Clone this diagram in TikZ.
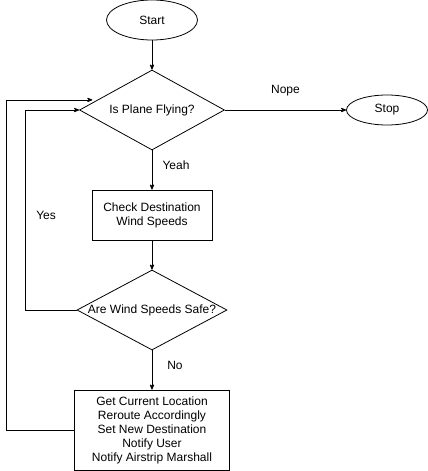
\documentclass[tikz,border=0pt]{standalone}
\usepackage{fontspec}
\setmainfont{Liberation Sans}
\usetikzlibrary{shapes.geometric,calc,arrows,positioning}

\begin{document}
\begin{tikzpicture}[x=1pt,y=-1pt,>=stealth',node distance=90pt,on grid,
  every node/.style={font=\fontsize{12}{14}\selectfont},
  terminal/.style={draw,ellipse,inner sep=0pt,line width=0.8pt},
  decision/.style={draw,diamond,inner sep=0pt,aspect=1.9,minimum height=80pt,line width=0.8pt},
  process/.style={draw,rectangle,align=center,inner sep=0pt,line width=0.8pt}]
  \useasboundingbox (0,0) rectangle (428,471);
  \node[terminal,minimum width=91pt,minimum height=40pt] (start) at (152,20) {Start};
  \node[decision,minimum width=145pt] (fly)     [below=90pt of start] {Is Plane Flying?};
  \node[terminal,minimum width=81pt,minimum height=30pt] (stop) [right=235pt of fly] {Stop};
  \node[process,minimum width=120pt,minimum height=50pt] (check) [below=105pt of fly] {Check Destination\\Wind Speeds};
  \node[decision,minimum width=150pt] (safe)    [below=95pt of check] {Are Wind Speeds Safe?};
  \node[process,minimum width=155pt,minimum height=80pt] (reroute) [below=120pt of safe]
    {Get Current Location\\Reroute Accordingly\\Set New Destination\\Notify User\\Notify Airstrip Marshall};
\tikzset{flow/.style={->,line width=0.8pt}}
\path (start) edge [flow]                                  (fly)
      (fly)   edge [flow] node [yshift=19pt]  {Nope}       (stop)
      (fly)   edge [flow] node [xshift=24pt,yshift=5pt] {Yeah} (check)
      (check) edge [flow]                                  (safe)
      (safe)  edge [flow] node [xshift=23pt,yshift=5pt] {No}   (reroute);
\draw[flow] (safe.west) -- ++(-51,0) -- node [right=7pt,yshift=-5pt] {Yes} ++(0,-200) -- (fly.west);
\draw[flow,shorten >=5pt] (reroute.west) -- ++(-68,0) |- ($(fly.west)!0.25!(fly.north)$);
\end{tikzpicture}
\end{document}
